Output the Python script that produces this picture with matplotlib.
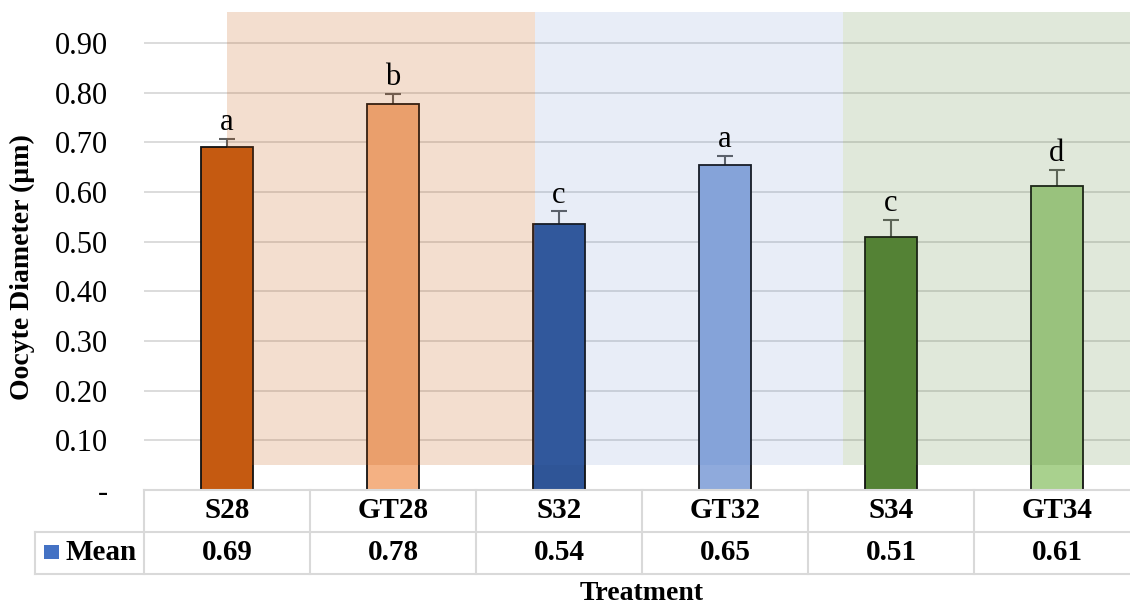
import matplotlib
matplotlib.use("Agg")
import matplotlib.pyplot as plt
from matplotlib.patches import Rectangle
from matplotlib.transforms import blended_transform_factory

plt.rcParams['font.family'] = ['Liberation Serif', 'DejaVu Serif']

treatments = ['S28', 'GT28', 'S32', 'GT32', 'S34', 'GT34']
means = [0.69, 0.777, 0.536, 0.654, 0.509, 0.612]
errors = [0.017, 0.020, 0.025, 0.019, 0.034, 0.032]
letters = ['a', 'b', 'c', 'a', 'c', 'd']
table_values = ['0.69', '0.78', '0.54', '0.65', '0.51', '0.61']
bar_colors = ['#C55A11', '#F4B183', '#2F5597', '#8FAADC', '#548235', '#A9D18E']
yticks = [0.0, 0.1, 0.2, 0.3, 0.4, 0.5, 0.6, 0.7, 0.8, 0.9]
ytick_labels = ['-', '0.10', '0.20', '0.30', '0.40', '0.50', '0.60', '0.70', '0.80', '0.90']

W, H = 1130, 607
fig = plt.figure(figsize=(W / 100, H / 100), dpi=100)
ax = fig.add_axes([144 / W, 1 - 490 / H, 996 / W, 490 / H])

x = list(range(len(treatments)))
ax.set_xlim(-0.5, 5.5)
ax.set_ylim(0, 0.987)

# gridlines
ax.set_yticks(yticks)
ax.set_yticklabels(ytick_labels, fontsize=22)
ax.yaxis.grid(True, color='#D9D9D9', lw=1.3, zorder=0)
ax.set_axisbelow(True)
ax.tick_params(axis='y', length=0, pad=26)
ax.set_xticks([])
for s in ax.spines.values():
    s.set_visible(False)

# error bars sit behind the bars, so only the upper half shows
ax.errorbar(x, means, yerr=errors, fmt='none', ecolor='#5f5f5f',
            elinewidth=1.5, capsize=6, capthick=1.5, zorder=1.9)
ax.bar(x, means, width=0.31, color=bar_colors, edgecolor='#111111', lw=1.3, zorder=2)

# shaded temperature groups, drawn over the bars
shades = [(0.0, 1.855, '#C55A11', 0.2), (1.855, 3.71, '#4472C4', 0.12), (3.71, 5.6, '#548235', 0.18)]
for x0, x1, c, a in shades:
    ax.add_patch(Rectangle((x0, 0.05), x1 - x0, 0.913, facecolor=c, alpha=a,
                           edgecolor='none', zorder=3))

for xi, m, e, lab in zip(x, means, errors, letters):
    ax.text(xi, m + e + 0.004, lab, ha='center', va='bottom', fontsize=22, zorder=5)

# data table under the axis
tr = blended_transform_factory(ax.transData, fig.transFigure)
ftr = fig.transFigure
lc = '#D9D9D9'

def fy(py):
    return 1 - py / H

fig.add_artist(plt.Line2D([144 / W, 1], [fy(490), fy(490)], color=lc, lw=1.5))
for py in (532, 574):
    fig.add_artist(plt.Line2D([35 / W, 1], [fy(py), fy(py)], color=lc, lw=1.5))
fig.add_artist(plt.Line2D([35 / W, 35 / W], [fy(532), fy(574)], color=lc, lw=1.5))
for i in range(len(treatments)):
    ax.plot([i - 0.5, i - 0.5], [fy(490), fy(574)], transform=tr, color=lc, lw=1.5,
            clip_on=False)
    ax.text(i, fy(511), treatments[i], transform=tr, ha='center', va='center',
            fontsize=21, fontweight='bold')
    ax.text(i, fy(553), table_values[i], transform=tr, ha='center', va='center',
            fontsize=21, fontweight='bold')

fig.add_artist(Rectangle((44 / W, fy(559)), 15 / W, 14 / H, transform=ftr,
                         facecolor='#4472C4', edgecolor='none'))
fig.text(65 / W, fy(553), 'Mean', ha='left', va='center', fontsize=21, fontweight='bold')

fig.text(642 / W, fy(594), 'Treatment', ha='center', va='center', fontsize=20,
         fontweight='bold')
fig.text(22 / W, fy(267), 'Oocyte Diameter (µm)', ha='center', va='center', rotation=90,
         fontsize=20, fontweight='bold')

fig.savefig('out.png', dpi=100)
